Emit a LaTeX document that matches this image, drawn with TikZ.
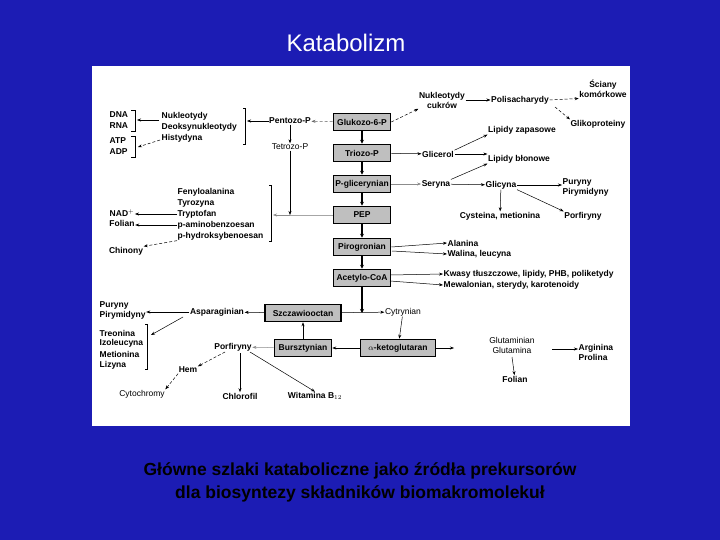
\documentclass[tikz,border=0pt]{standalone}
\usepackage{fontspec}
\setmainfont{Liberation Sans}
\usetikzlibrary{arrows.meta}
\definecolor{bgblue}{RGB}{28,28,180}
\begin{document}
\begin{tikzpicture}[x=1pt,y=-1pt,
  t/.style={font=\fontsize{8.5}{10}\selectfont\bfseries,inner sep=0.5pt},
  tn/.style={font=\fontsize{8.5}{10}\selectfont,inner sep=0.5pt},
  box/.style={draw=black,line width=1.6pt,fill=black!25,minimum width=57pt,minimum height=17pt,inner sep=1pt,font=\fontsize{8.5}{10}\selectfont\bfseries},
  ar/.style={-{Stealth[length=4pt,width=3pt]},line width=0.5pt},
  ga/.style={ar,draw=black!45},
  da/.style={ar,densely dashed},
  main/.style={-{Stealth[length=4pt,width=4pt]},line width=2pt},
  br/.style={line width=0.6pt}]
\fill[bgblue] (0,0) rectangle (720,540);
\useasboundingbox (0,0) rectangle (720,540);
\fill[white] (92,66) rectangle (630,426);
\node[font=\fontsize{24}{28}\selectfont,text=white] (title) at (346,43) {Katabolizm};
\node[font=\fontsize{17.5}{23}\selectfont\bfseries,align=center] (cap) at (360,482) {Główne szlaki kataboliczne jako źródła prekursorów\\dla biosyntezy składników biomakromolekuł};
% boxes
\node[box] (g6p) at (362,122) {Glukozo-6-P};
\node[box] (trp) at (362,153) {Triozo-P};
\node[box] (pgl) at (362,184) {P-glicerynian};
\node[box] (pep) at (362,215) {PEP};
\node[box] (pir) at (362,247) {Pirogronian};
\node[box] (aco) at (362,278) {Acetylo-CoA};
\node[box,minimum width=76pt] (szc) at (303,313) {Szczawiooctan};
\node[box] (bur) at (303,348) {Bursztynian};
\node[box,minimum width=75pt] (akg) at (398,348) {$\alpha$-ketoglutaran};
\draw[main] (g6p) -- (trp);
\draw[main] (trp) -- (pgl);
\draw[main] (pgl) -- (pep);
\draw[main] (pep) -- (pir);
\draw[main] (pir) -- (aco);
% left top
\node[t,anchor=west] (dna) at (109,115) {DNA};
\node[t,anchor=west] (rna) at (109,126) {RNA};
\node[t,anchor=west] (atp) at (109,141) {ATP};
\node[t,anchor=west] (adp) at (109,152) {ADP};
\draw[br] (131,110)--(135,110)--(135,131)--(131,131);
\draw[br] (131,136)--(135,136)--(135,157)--(131,157);
\coordinate (b1) at (137,120);
\coordinate (b2) at (138,147);
\node[t,anchor=west] (nuk) at (161,116) {Nukleotydy};
\node[t,anchor=west] (deo) at (161,127) {Deoksynukleotydy};
\node[t,anchor=west] (his) at (161,138) {Histydyna};
\draw[br] (243,108)--(245,108)--(245,144)--(243,144);
\coordinate (b3) at (247,121);
\node[t] (pen) at (290,121) {Pentozo-P};
\node[tn] (tet) at (290,147) {Tetrozo-P};
\draw[ar] (159,120) -- (b1);
\draw[da] (160,140) -- (b2);
\draw[ar] (pen) -- (b3);
\draw[da,draw=black!60] (g6p) -- (pen);
\draw[ar] (pen) -- (tet);
% aromatic
\node[t,anchor=west] (fen) at (177,192) {Fenyloalanina};
\node[t,anchor=west] (tyr) at (177,203) {Tyrozyna};
\node[t,anchor=west] (try) at (177,214) {Tryptofan};
\node[t,anchor=west] (pam) at (177,225) {p-aminobenzoesan};
\node[t,anchor=west] (phy) at (177,236) {p-hydroksybenoesan};
\draw[br] (269,185)--(271,185)--(271,241)--(269,241);
\coordinate (b4) at (273,215);
\coordinate (tj) at (290,215);
\draw[draw=black!35,line width=0.9pt] (pep.west) -- (tj);
\draw[ar,draw=black!45] (tj) -- (b4);
\draw[ar] (tet) -- (tj);
\node[t] (nad) at (122,213) {NAD$^+$};
\node[t] (fol) at (122,223) {Folian};
\node[t] (chi) at (126,251) {Chinony};
\draw[ar] (try) -- (nad.east |- try);
\draw[ar] (pam) -- (fol.east |- pam);
\draw[da] (phy.south west) -- (chi.north east);
% right top
\node[t,align=center] (nc) at (442,100) {Nukleotydy\\cukrów};
\node[t] (pol) at (520,100) {Polisacharydy};
\node[t,align=center] (sci) at (603,89) {Ściany\\komórkowe};
\node[t] (gli) at (598,124) {Glikoproteiny};
\draw[da] (g6p.east) -- (nc.south west);
\draw[ar] (nc.east |- pol) -- (pol);
\draw[da] (pol.east) -- (sci.south west);
\draw[da] (555,107) -- (gli.north west);
\node[t] (lz) at (522,130) {Lipidy zapasowe};
\node[t] (lb) at (519,159) {Lipidy błonowe};
\node[t] (gcl) at (438,154) {Glicerol};
\draw[ar] (trp) -- (gcl);
\draw[ar] (gcl.north east) -- (lz.south west);
\draw[ar] (gcl.east) -- (lb.west |- gcl);
\node[t] (ser) at (436,184) {Seryna};
\node[t] (gly) at (501,185) {Glicyna};
\draw[ga] (pgl) -- (ser);
\draw[ar] (ser.north east) -- (lb.south west);
\draw[ar] (ser) -- (gly);
\node[t,align=left,anchor=west] (pur) at (562,187) {Puryny\\Pirymidyny};
\node[t] (cys) at (500,216) {Cysteina, metionina};
\node[t] (por) at (583,216) {Porfiryny};
\draw[ar] (gly) -- (pur.west |- gly);
\draw[ar] (gly.south east) -- (por.north west);
\draw[ar] (gly) -- (cys);
\node[t,anchor=west] (ala) at (447,243) {Alanina};
\node[t,anchor=west] (wal) at (447,254) {Walina, leucyna};
\draw[ar] (pir.east) -- (ala.west);
\draw[ar] (392,251) -- (wal.west);
\node[t,anchor=west] (kw) at (443,274) {Kwasy tłuszczowe, lipidy, PHB, poliketydy};
\node[t,anchor=west] (mew) at (443,285) {Mewalonian, sterydy, karotenoidy};
\draw[ar] (390,275) -- (kw.west);
\draw[ar] (390,281) -- (mew.west);
% TCA
\node[tn] (cyt) at (403,312) {Cytrynian};
\coordinate (aj) at (362,313);
\draw[ar] (szc) -- (cyt);
\draw[main] (aco) -- (aj);
\draw[ar] (cyt) -- (akg);
\draw[ar] (akg) -- (bur);
\draw[ar] (bur) -- (szc);
\coordinate (akr) at (454,348);
\draw[ar] (akg) -- (akr);
\node[tn,align=center] (glu) at (512,345) {Glutaminian\\Glutamina};
\node[t,align=left,anchor=west] (arg) at (578,352) {Arginina\\Prolina};
\node[t] (fo2) at (515,379) {Folian};
\draw[ar] (552,349) -- (arg.west |- 552,349);
\draw[ar] (512,357) -- (fo2);
% left bottom
\node[t] (asp) at (217,312) {Asparaginian};
\draw[ar] (szc) -- (asp);
\node[t,align=left,anchor=west] (pu2) at (99,310) {Puryny\\Pirymidyny};
\draw[ar] (asp) -- (pu2.east |- asp);
\node[t,anchor=west] (tre) at (99,333) {Treonina};
\node[t,anchor=west] (izo) at (99,343) {Izoleucyna};
\node[t,anchor=west] (met) at (99,354) {Metionina};
\node[t,anchor=west] (liz) at (99,365) {Lizyna};
\draw[br] (145,324)--(147,324)--(147,369)--(145,369);
\coordinate (b5) at (151,335);
\draw[ar] (183,317) -- (b5);
\node[t] (pf2) at (233,347) {Porfiryny};
\draw[ga] (bur) -- (pf2);
\node[t] (hem) at (188,370) {Hem};
\node[tn] (cch) at (142,394) {Cytochromy};
\node[t] (chl) at (240,396) {Chlorofil};
\node[t] (wit) at (315,396) {Witamina B$_{12}$};
\draw[da] (225,352) -- (hem.north east);
\draw[ar,line width=0.9pt] (240,353) -- (chl);
\draw[ar] (250,352) -- (wit.north);
\draw[da] (hem.south west) -- (cch.north east);
\end{tikzpicture}
\end{document}
